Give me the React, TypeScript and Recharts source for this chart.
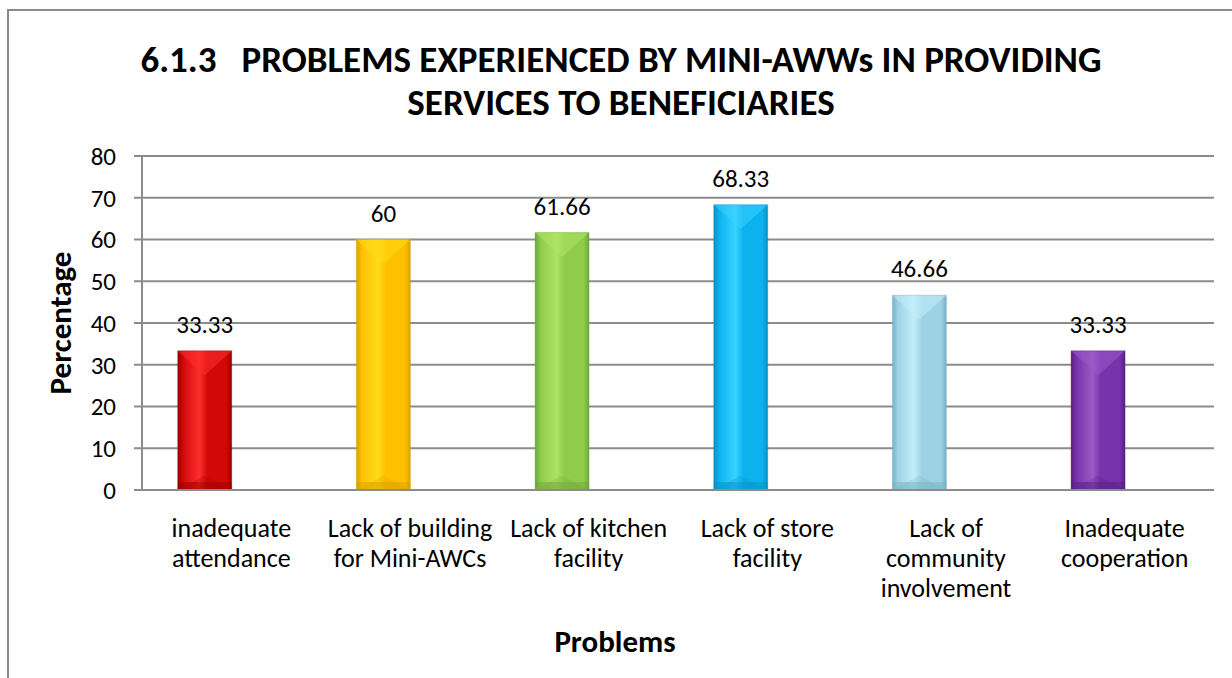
import React from 'react';
import { BarChart, Bar, XAxis, YAxis, CartesianGrid, Cell, LabelList } from 'recharts';

const categories = [
  'inadequate\nattendance',
  'Lack of building\nfor Mini-AWCs',
  'Lack of kitchen\nfacility',
  'Lack of store\nfacility',
  'Lack of\ncommunity\ninvolvement',
  'Inadequate\ncooperation',
];
const percentages = [33.33, 60, 61.66, 68.33, 46.66, 33.33];
const yTicks = [0, 10, 20, 30, 40, 50, 60, 70, 80];
const barColors = [
  { main: '#d20808', light: '#ff2e2e', dark: '#9a0000' },
  { main: '#ffc000', light: '#ffdb1a', dark: '#d9a000' },
  { main: '#8fcc4c', light: '#aee366', dark: '#6ea638' },
  { main: '#0bb2ee', light: '#3ad2ff', dark: '#0890c4' },
  { main: '#9dd2e4', light: '#c3eef8', dark: '#78afc2' },
  { main: '#7833aa', light: '#9a5ac6', dark: '#571f82' },
];

const data = categories.map((c, i) => ({ category: c, value: percentages[i], empty: null as number | null }));

const FONT = 'Carlito, Lato, "Liberation Sans", sans-serif';

const BevelBar = (props: any) => {
  const { x, y, width, height, index } = props;
  if (!height || height <= 0) return null;
  const c = barColors[index % barColors.length];
  const v = Math.min(width * 0.45, height / 2);
  const b = Math.min(8, height / 4);
  return (
    <g>
      <rect x={x} y={y} width={width} height={height} fill={`url(#barGrad${index})`} />
      <polygon points={`${x},${y} ${x + width},${y} ${x + width / 2},${y + v}`} fill={c.light} opacity={0.55} />
      <polygon points={`${x},${y + height} ${x + width},${y + height} ${x + width / 2},${y + height - v * 0.6}`} fill={c.dark} opacity={0.25} />
      <rect x={x} y={y + height - b} width={width} height={b} fill={c.dark} opacity={0.45} />
      <rect x={x} y={y} width={width} height={height} fill="none" stroke={c.dark} strokeOpacity={0.35} strokeWidth={1} />
    </g>
  );
};

const CategoryTick = (props: any) => {
  const { x, y, payload } = props;
  const lines = String(payload.value).split('\n');
  return (
    <text x={x} y={y} textAnchor="middle" fill="#000" fontFamily={FONT} fontSize={26}>
      {lines.map((l, i) => (
        <tspan key={i} x={x} dy={i === 0 ? 39 : 30}>{l}</tspan>
      ))}
    </text>
  );
};

export default function App() {
  return (
    <div style={{ position: 'fixed', left: 0, top: 0, width: 1232, height: 678, overflow: 'hidden', background: '#fff' }}>
      <div style={{ position: 'absolute', left: 7, top: 9, width: 1260, height: 720, border: '2px solid #8a8a8a', boxSizing: 'border-box' }} />
      <div style={{ position: 'absolute', left: 0, width: 1242, top: 38, textAlign: 'center', fontFamily: FONT, fontWeight: 700, fontSize: 37, lineHeight: '43px', color: '#000' }}>
        <div style={{ whiteSpace: 'pre' }}>{'6.1.3   PROBLEMS EXPERIENCED BY MINI-AWWs IN PROVIDING'}</div>
        <div>SERVICES TO BENEFICIARIES</div>
      </div>
      <div style={{ position: 'absolute', left: 0, top: 0 }}>
        <BarChart
          width={1232}
          height={678}
          data={data}
          margin={{ top: 156, right: 18, bottom: 26, left: 40 }}
          barCategoryGap="20%"
          barGap={0}
        >
          <defs>
            {barColors.map((c, i) => (
              <linearGradient key={i} id={`barGrad${i}`} x1="0" y1="0" x2="1" y2="0">
                <stop offset="0%" stopColor={c.dark} />
                <stop offset="10%" stopColor={c.main} />
                <stop offset="40%" stopColor={c.light} />
                <stop offset="55%" stopColor={c.main} />
                <stop offset="90%" stopColor={c.main} />
                <stop offset="100%" stopColor={c.dark} />
              </linearGradient>
            ))}
          </defs>
          <CartesianGrid vertical={false} stroke="#8c8c8c" strokeWidth={2} />
          <XAxis
            dataKey="category"
            interval={0}
            height={162}
            tickLine={false}
            axisLine={{ stroke: '#8c8c8c', strokeWidth: 2 }}
            tick={<CategoryTick />}
            label={{
              value: 'Problems',
              position: 'insideBottom',
              offset: 0,
              dx: -63,
              style: { fontFamily: FONT, fontWeight: 700, fontSize: 31, fill: '#000' },
            }}
          />
          <YAxis
            width={102}
            domain={[0, 80]}
            ticks={yTicks}
            interval={0}
            tickSize={8}
            tickMargin={18}
            tickLine={{ stroke: '#8c8c8c', strokeWidth: 2 }}
            axisLine={{ stroke: '#8c8c8c', strokeWidth: 2 }}
            tick={{ fontFamily: FONT, fontSize: 25, fill: '#000' }}
            label={{
              value: 'Percentage',
              angle: -90,
              position: 'insideLeft',
              offset: 20,
              style: { textAnchor: 'middle', fontFamily: FONT, fontWeight: 700, fontSize: 31, fill: '#000' },
            }}
          />
          <Bar dataKey="value" isAnimationActive={false} shape={<BevelBar />}>
            {data.map((d, i) => (
              <Cell key={i} fill={barColors[i].main} />
            ))}
            <LabelList dataKey="value" position="top" offset={18} style={{ fontFamily: FONT, fontSize: 25, fill: '#000' }} />
          </Bar>
          <Bar dataKey="empty" isAnimationActive={false} />
        </BarChart>
      </div>
    </div>
  );
}
